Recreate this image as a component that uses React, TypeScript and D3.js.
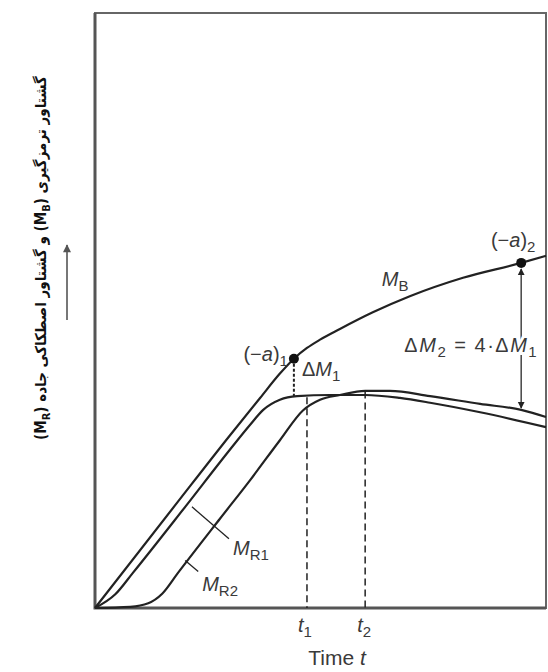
import React, { useEffect, useRef } from "react";
import * as d3 from "d3";

// time (0..100) vs moment (0..100)
const mbTime = [0, 17.7, 29.9, 36.6, 41.0, 44.1, 47.0, 49.9, 54.3, 61.6, 69.8, 81.6, 94.5, 100];
const mbValue = [0, 17.2, 29.0, 35.3, 39.4, 41.9, 43.7, 45.1, 46.9, 49.7, 52.4, 55.5, 58.0, 59.2];

const mr1Time = [0, 4.5, 8.4, 20.0, 29.9, 34.4, 37.3, 41.0, 44.8, 52.1, 59.9, 67.6, 74.3, 85.4, 100];
const mr1Value = [0, 2.3, 5.9, 17.0, 26.6, 30.8, 33.3, 35.0, 35.6, 35.8, 35.8, 35.3, 34.5, 32.9, 30.4];

const mr2Time = [0, 7.8, 11.8, 14.9, 18.4, 27.7, 34.4, 41.0, 46.1, 49.9, 54.3, 59.9, 65.4, 74.3, 85.4, 94.5, 100];
const mr2Value = [0, 0.2, 0.8, 2.4, 5.9, 15.0, 21.5, 28.2, 33.2, 35.0, 35.8, 36.5, 36.5, 35.6, 34.3, 33.3, 32.1];

// marked instants
const t1 = 47.0;
const t2 = 59.9;
const alpha1 = { t: 44.1, mb: 41.9, mr: 35.6 };
const alpha2 = { t: 94.5, mb: 58.0, mr: 33.6 };
const t1Top = 35.4;
const t2Top = 36.4;

const yTitle = "گشتاور ترمزگیری (M";
const yTitleMid = ") و گشتاور اصطکاکی جاده (M";

type Part = { t: string; i?: boolean; sub?: boolean };

const App = () => {
  const svgRef = useRef<SVGSVGElement>(null);

  useEffect(() => {
    const width = 548;
    const height = 672;
    const left = 95, right = 546, top = 13, bottom = 608;

    const svg = d3.select(svgRef.current).attr("width", width).attr("height", height);
    svg.selectAll("*").remove();

    const x = d3.scaleLinear().domain([0, 100]).range([left, right]);
    const y = d3.scaleLinear().domain([0, 100]).range([bottom, top]);

    const ink = "#222";
    const font = "'Liberation Sans', Arial, sans-serif";

    svg.append("rect").attr("width", width).attr("height", height).attr("fill", "#fff");

    const defs = svg.append("defs");
    defs.append("marker")
      .attr("id", "head")
      .attr("viewBox", "0 0 10 10")
      .attr("refX", 9).attr("refY", 5)
      .attr("markerWidth", 7).attr("markerHeight", 9)
      .attr("markerUnits", "userSpaceOnUse")
      .attr("orient", "auto-start-reverse")
      .append("path").attr("d", "M0,0 L10,5 L0,10 Z").attr("fill", ink);
    defs.append("marker")
      .attr("id", "headGrey")
      .attr("viewBox", "0 0 10 10")
      .attr("refX", 9).attr("refY", 5)
      .attr("markerWidth", 9).attr("markerHeight", 8)
      .attr("markerUnits", "userSpaceOnUse")
      .attr("orient", "auto")
      .append("path").attr("d", "M0,0 L10,5 L0,10 Z").attr("fill", "#555");

    // frame
    svg.append("rect")
      .attr("x", left).attr("y", top)
      .attr("width", right - left).attr("height", bottom - top)
      .attr("fill", "none").attr("stroke", "#666").attr("stroke-width", 2);
    svg.append("path")
      .attr("d", `M${left},${top} V${bottom} H${right}`)
      .attr("fill", "none").attr("stroke", "#555").attr("stroke-width", 3);

    // dashed verticals
    const dashed = (t: number, v0: number, v1: number) =>
      svg.append("line")
        .attr("x1", x(t)).attr("x2", x(t))
        .attr("y1", y(v0)).attr("y2", y(v1))
        .attr("stroke", ink).attr("stroke-width", 1.5).attr("stroke-dasharray", "7,4");
    dashed(t1, t1Top, 0);
    dashed(t2, t2Top, 0);
    dashed(alpha1.t, alpha1.mb, alpha1.mr).attr("stroke-dasharray", "3,2").attr("stroke-width", 2);

    // curves
    const line = d3.line<[number, number]>()
      .x((d) => x(d[0]))
      .y((d) => y(d[1]))
      .curve(d3.curveMonotoneX);
    const series = [
      [mbTime, mbValue],
      [mr1Time, mr1Value],
      [mr2Time, mr2Value],
    ];
    series.forEach(([ts, vs]) => {
      svg.append("path")
        .datum(ts.map((t, i) => [t, vs[i]] as [number, number]))
        .attr("d", line)
        .attr("fill", "none")
        .attr("stroke", ink)
        .attr("stroke-width", 2.2);
    });

    // ΔM2 arrow
    svg.append("line")
      .attr("x1", x(alpha2.t)).attr("x2", x(alpha2.t))
      .attr("y1", y(alpha2.mb) + 6).attr("y2", y(alpha2.mr))
      .attr("stroke", "#444").attr("stroke-width", 1.5)
      .attr("marker-start", "url(#head)").attr("marker-end", "url(#head)");

    // dots
    [alpha1, alpha2].forEach((a) => {
      svg.append("circle").attr("cx", x(a.t)).attr("cy", y(a.mb)).attr("r", 5).attr("fill", "#111");
    });

    const label = (px: number, py: number, parts: Part[], anchor = "start", size = 20) => {
      const el = svg.append("text")
        .attr("x", px).attr("y", py)
        .attr("text-anchor", anchor)
        .attr("font-family", font)
        .attr("font-size", size)
        .attr("fill", "#3a3a3a");
      let down = false;
      const shift = Math.round(size * 0.25);
      parts.forEach((p) => {
        const ts = el.append("tspan").text(p.t);
        if (p.i) ts.attr("font-style", "italic");
        if (p.sub && !down) { ts.attr("dy", shift).attr("font-size", size * 0.75); down = true; }
        else if (p.sub) ts.attr("font-size", size * 0.75);
        else if (down) { ts.attr("dy", -shift); down = false; }
      });
      return el;
    };

    label(x(alpha1.t) - 6, y(alpha1.mb) + 2,
      [{ t: "(−" }, { t: "a", i: true }, { t: ")" }, { t: "1", sub: true }], "end");
    label(x(alpha2.t) - 8, y(alpha2.mb) - 16,
      [{ t: "(−" }, { t: "a", i: true }, { t: ")" }, { t: "2", sub: true }], "middle");
    label(x(alpha1.t) + 8, y(alpha1.mr) - 20,
      [{ t: "Δ" }, { t: "M", i: true }, { t: "1", sub: true }]);
    label(x(mbTime[10]) - 28, y(mbValue[10]) - 10,
      [{ t: "M", i: true }, { t: "B", sub: true }]);
    label(x(alpha2.t) + 17, y(alpha2.mb) - 348 + 437,
      [{ t: "Δ" }, { t: "M", i: true }, { t: "2", sub: true }, { t: " = 4·Δ" }, { t: "M", i: true }, { t: "1", sub: true }], "end")
      .attr("letter-spacing", 1.5)
      .attr("stroke", "#fff").attr("stroke-width", 6).attr("paint-order", "stroke");

    // MR leaders
    const leader = (t: number, v: number, dx: number, dy: number) =>
      svg.append("line")
        .attr("x1", x(t)).attr("y1", y(v))
        .attr("x2", x(t) + dx).attr("y2", y(v) + dy)
        .attr("stroke", ink).attr("stroke-width", 1.3);
    leader(21.5, 17.0, 37, 32);
    leader(20.0, 8.0, 13, 11);
    label(x(21.5) + 41, y(17.0) + 48, [{ t: "M", i: true }, { t: "R1", sub: true }]);
    label(x(20.0) + 17, y(8.0) + 31, [{ t: "M", i: true }, { t: "R2", sub: true }]);

    // x labels
    label(x(t1) - 2, bottom + 24, [{ t: "t", i: true }, { t: "1", sub: true }], "middle");
    label(x(t2) - 1, bottom + 24, [{ t: "t", i: true }, { t: "2", sub: true }], "middle");
    label(x(t1) + 30, bottom + 57, [{ t: "Time " }, { t: "t", i: true }], "middle", 21);

    // y arrow
    svg.append("line")
      .attr("x1", 67).attr("x2", 67).attr("y1", 320).attr("y2", 245)
      .attr("stroke", "#777").attr("stroke-width", 2)
      .attr("marker-end", "url(#headGrey)");

    // y title (Persian, rotated)
    const yt = svg.append("text")
      .attr("transform", "translate(46,258) rotate(-90)")
      .attr("text-anchor", "middle")
      .attr("direction", "rtl")
      .attr("font-family", "'DejaVu Sans Condensed', 'DejaVu Sans', sans-serif")
      .attr("font-weight", "bold")
      .attr("font-size", 15)
      .attr("fill", "#111");
    yt.append("tspan").text(yTitle);
    yt.append("tspan").text("B").attr("dy", 4).attr("font-size", 11);
    yt.append("tspan").text(yTitleMid).attr("dy", -4);
    yt.append("tspan").text("R").attr("dy", 4).attr("font-size", 11);
    yt.append("tspan").text(")").attr("dy", -4);
  }, []);

  return (
    <div style={{ position: "absolute", left: 0, top: 0 }}>
      <svg ref={svgRef} style={{ display: "block" }}></svg>
    </div>
  );
};

export default App;
